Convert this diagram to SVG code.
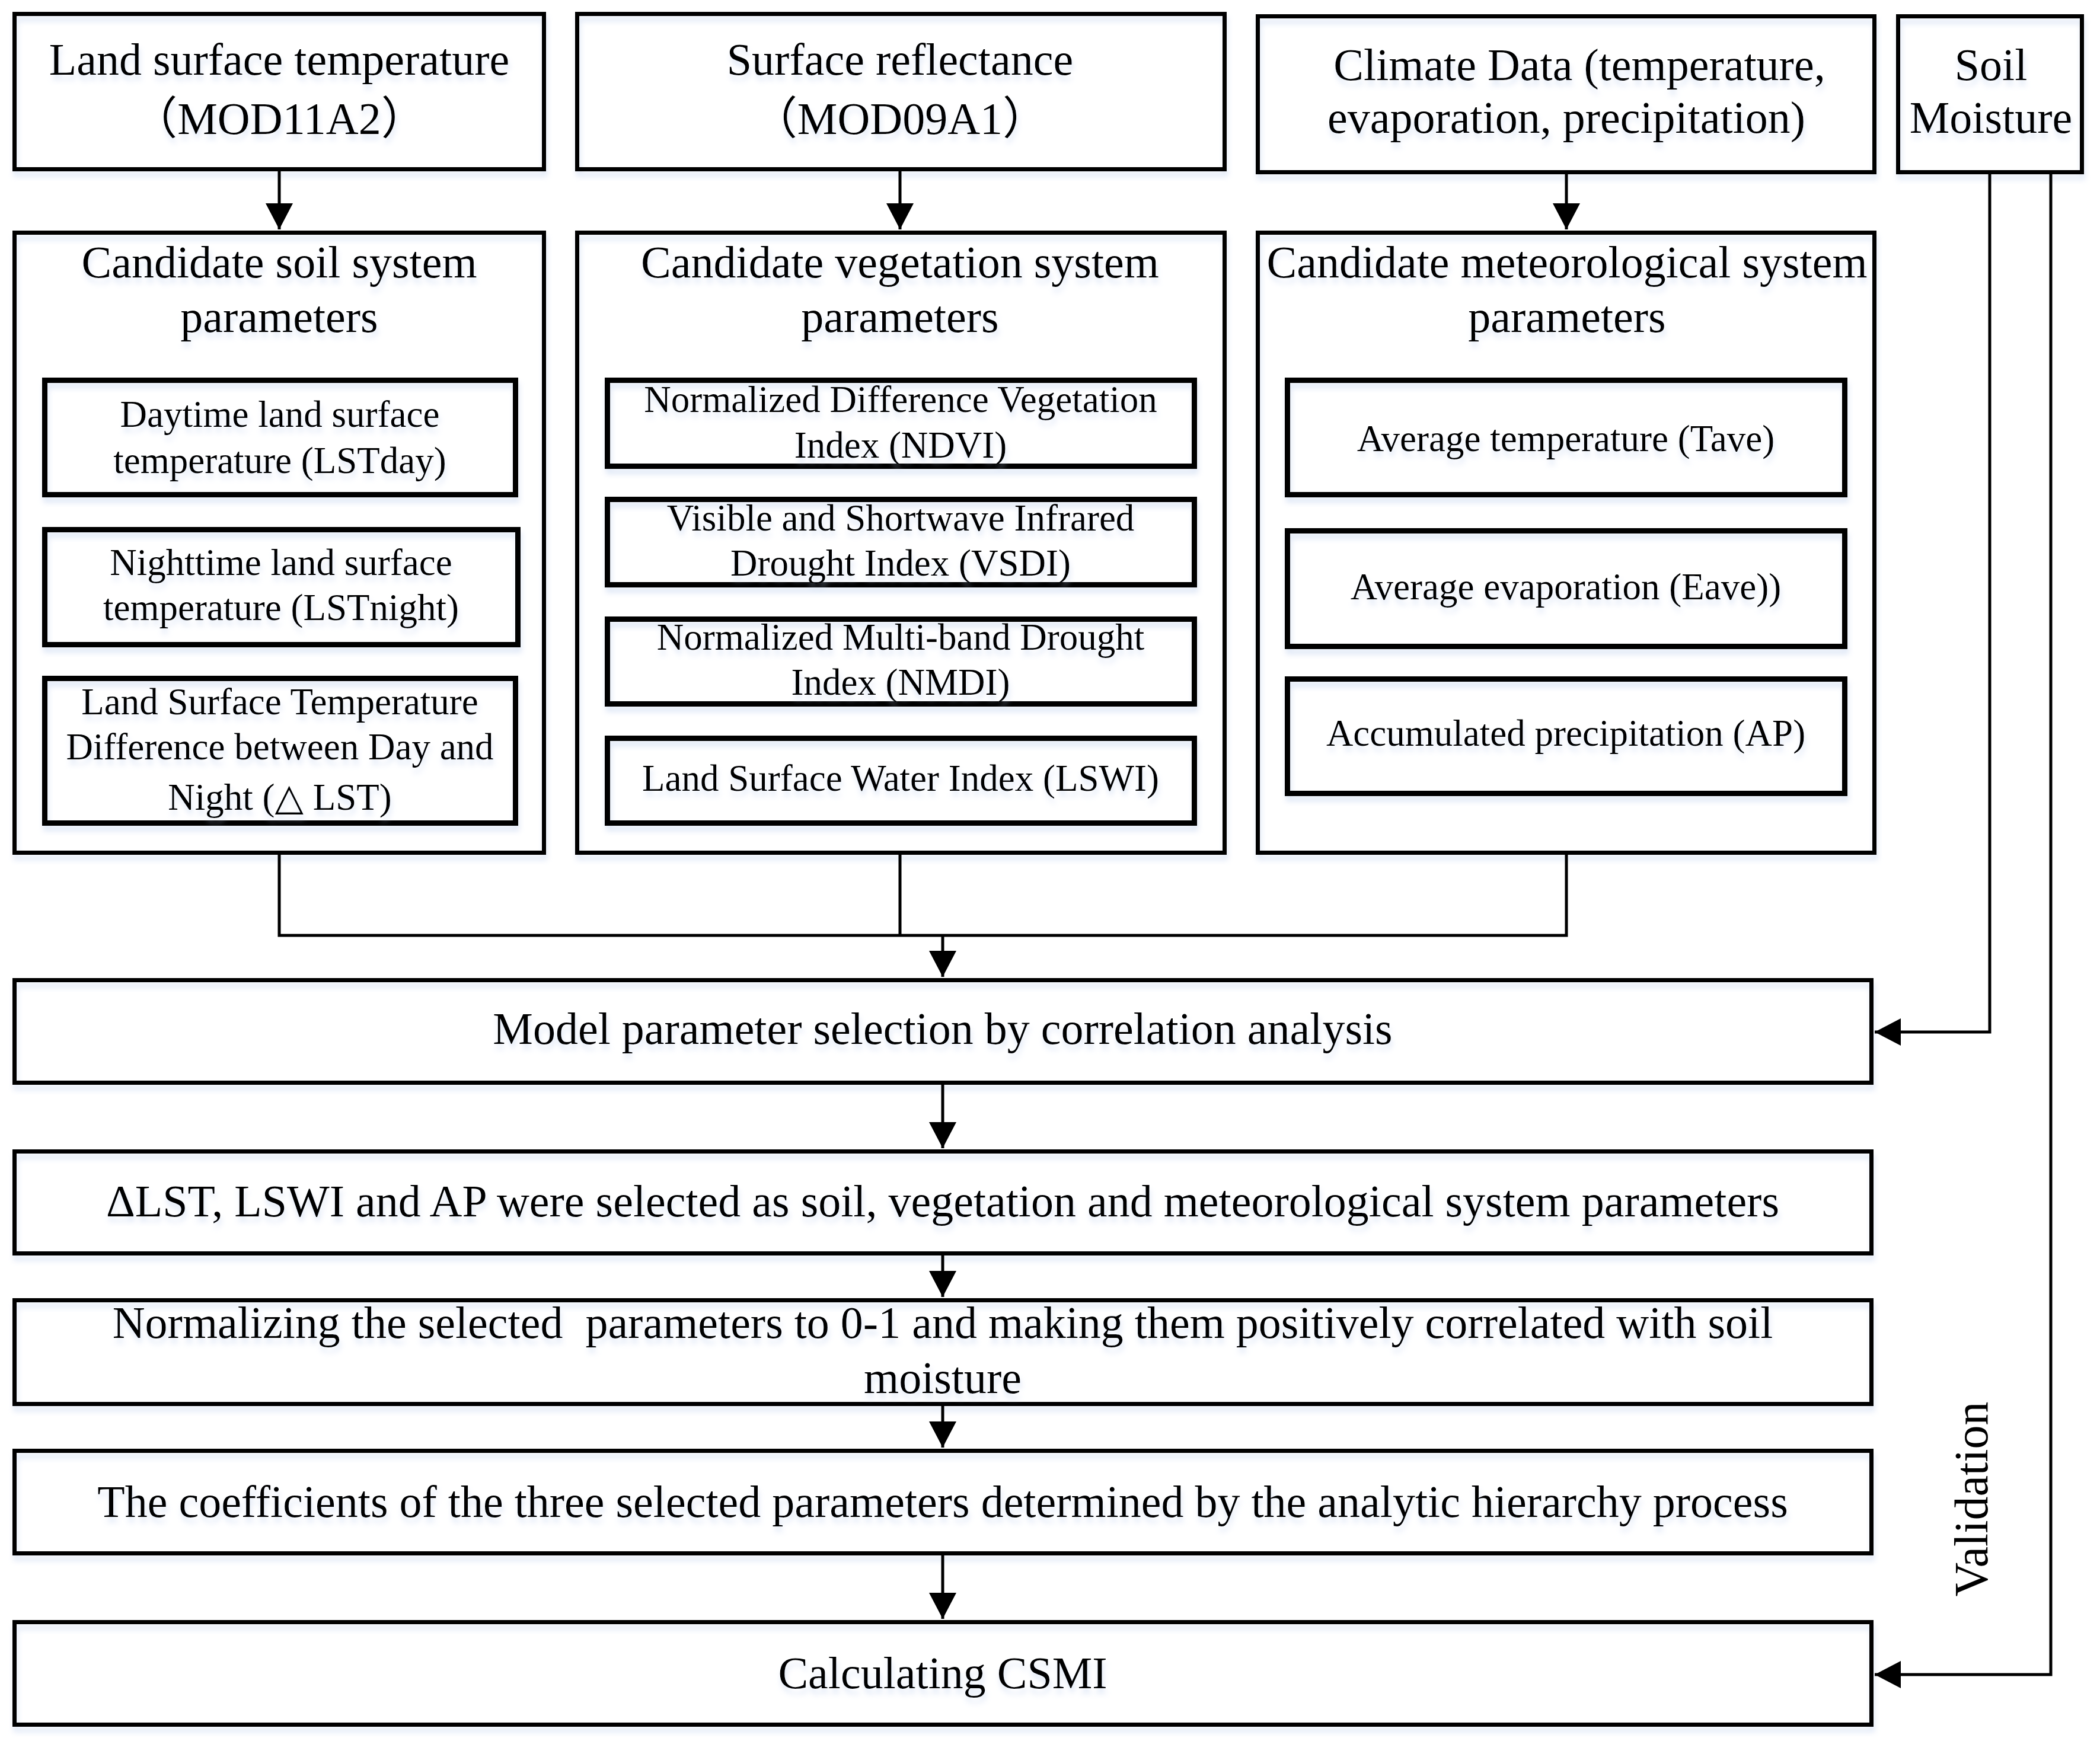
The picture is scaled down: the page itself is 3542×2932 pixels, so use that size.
<svg xmlns="http://www.w3.org/2000/svg" width="3542" height="2932" viewBox="0 0 3542 2932">
<style>
  .bg { fill: #ffffff; }
  .outer { fill: none; stroke: #000; stroke-width: 7; filter: url(#glow); }
  .inner { fill: none; stroke: #000; stroke-width: 9; filter: url(#glow); }
  .big { font-family: "Liberation Serif", "Noto Sans CJK SC", serif; font-size: 76px; fill: #000; text-anchor: middle; filter: url(#glow); }
  .small { font-family: "Liberation Serif", "DejaVu Serif", serif; font-size: 63px; fill: #000; text-anchor: middle; filter: url(#glow); }
  .conn { fill: none; stroke: #000; stroke-width: 5; }
  .val { font-family: "Liberation Serif", serif; font-size: 80px; fill: #000; text-anchor: middle; }
</style>
<defs>
  <filter id="glow" x="-5%" y="-20%" width="110%" height="150%">
    <feDropShadow dx="2" dy="9" stdDeviation="5" flood-color="#b9cdec" flood-opacity="0.45"/>
  </filter>
  <marker id="arrow" markerUnits="userSpaceOnUse" markerWidth="44" markerHeight="46" viewBox="0 0 44 46" refX="44" refY="23" orient="auto">
    <path d="M0,0 L44,23 L0,46 Z" fill="#000"/>
  </marker>
</defs>
<rect class="bg" x="0" y="0" width="3542" height="2932"/>

<g id="node-lst">
  <rect class="outer" x="24.5" y="23.5" width="893" height="262"/>
  <text class="big" x="471" y="126">Land surface temperature</text>
  <text class="big" x="471" y="226">（MOD11A2）</text>
</g>
<g id="node-reflectance">
  <rect class="outer" x="973.5" y="23.5" width="1092" height="262"/>
  <text class="big" x="1518" y="126">Surface reflectance</text>
  <text class="big" x="1518" y="226">（MOD09A1）</text>
</g>
<g id="node-climate">
  <rect class="outer" x="2121.5" y="27.5" width="1040" height="263"/>
  <text class="big" x="2664" y="135">Climate Data (temperature,</text>
  <text class="big" x="2642" y="224">evaporation, precipitation)</text>
</g>
<g id="node-soilmoisture">
  <rect class="outer" x="3201.5" y="27.5" width="310" height="263"/>
  <text class="big" x="3358" y="135">Soil</text>
  <text class="big" x="3358" y="224">Moisture</text>
</g>

<g id="node-soil-params">
  <rect class="outer" x="24.5" y="392.5" width="893" height="1046"/>
  <text class="big" x="471" y="468">Candidate soil system</text>
  <text class="big" x="471" y="560">parameters</text>
  <g id="node-lstday">
    <rect class="inner" x="75.5" y="641.5" width="794" height="193"/>
    <text class="small" x="472" y="720">Daytime land surface</text>
    <text class="small" x="472" y="798">temperature (LSTday)</text>
  </g>
  <g id="node-lstnight">
    <rect class="inner" x="75.5" y="893.5" width="798" height="194"/>
    <text class="small" x="474" y="970">Nighttime land surface</text>
    <text class="small" x="474" y="1046">temperature (LSTnight)</text>
  </g>
  <g id="node-dlst">
    <rect class="inner" x="75.5" y="1144.5" width="794" height="244"/>
    <text class="small" x="472" y="1205">Land Surface Temperature</text>
    <text class="small" x="472" y="1281">Difference between Day and</text>
    <text class="small" x="472" y="1366">Night (△ LST)</text>
  </g>
</g>

<g id="node-veg-params">
  <rect class="outer" x="973.5" y="392.5" width="1092" height="1046"/>
  <text class="big" x="1518" y="468">Candidate vegetation system</text>
  <text class="big" x="1518" y="560">parameters</text>
  <g id="node-ndvi">
    <rect class="inner" x="1024.5" y="641.5" width="990" height="145"/>
    <text class="small" x="1519" y="695">Normalized Difference Vegetation</text>
    <text class="small" x="1519" y="772">Index (NDVI)</text>
  </g>
  <g id="node-vsdi">
    <rect class="inner" x="1024.5" y="842.5" width="990" height="144"/>
    <text class="small" x="1519" y="895">Visible and Shortwave Infrared</text>
    <text class="small" x="1519" y="971">Drought Index (VSDI)</text>
  </g>
  <g id="node-nmdi">
    <rect class="inner" x="1024.5" y="1044.5" width="990" height="143"/>
    <text class="small" x="1519" y="1096">Normalized Multi-band Drought</text>
    <text class="small" x="1519" y="1172">Index (NMDI)</text>
  </g>
  <g id="node-lswi">
    <rect class="inner" x="1024.5" y="1245.5" width="990" height="143"/>
    <text class="small" x="1519" y="1334">Land Surface Water Index (LSWI)</text>
  </g>
</g>

<g id="node-met-params">
  <rect class="outer" x="2121.5" y="392.5" width="1040" height="1046"/>
  <text class="big" x="2643" y="468">Candidate meteorological system</text>
  <text class="big" x="2643" y="560">parameters</text>
  <g id="node-tave">
    <rect class="inner" x="2171.5" y="641.5" width="940" height="193"/>
    <text class="small" x="2641" y="761">Average temperature (Tave)</text>
  </g>
  <g id="node-eave">
    <rect class="inner" x="2171.5" y="895.5" width="940" height="195"/>
    <text class="small" x="2641" y="1011">Average evaporation (Eave))</text>
  </g>
  <g id="node-ap">
    <rect class="inner" x="2171.5" y="1145.5" width="940" height="193"/>
    <text class="small" x="2641" y="1258">Accumulated precipitation (AP)</text>
  </g>
</g>

<g id="node-model">
  <rect class="outer" x="24.5" y="1653.5" width="3132" height="173"/>
  <text class="big" x="1590" y="1761">Model parameter selection by correlation analysis</text>
</g>
<g id="node-selected">
  <rect class="outer" x="24.5" y="1942.5" width="3132" height="172"/>
  <text class="big" x="1590" y="2052">ΔLST, LSWI and AP were selected as soil, vegetation and meteorological system parameters</text>
</g>
<g id="node-normalize">
  <rect class="outer" x="24.5" y="2193.5" width="3132" height="175"/>
  <text class="big" x="1590" y="2257" xml:space="preserve">Normalizing the selected  parameters to 0-1 and making them positively correlated with soil</text>
  <text class="big" x="1590" y="2350">moisture</text>
</g>
<g id="node-ahp">
  <rect class="outer" x="24.5" y="2447.5" width="3132" height="173"/>
  <text class="big" x="1590" y="2559">The coefficients of the three selected parameters determined by the analytic hierarchy process</text>
</g>
<g id="node-csmi">
  <rect class="outer" x="24.5" y="2736.5" width="3132" height="173"/>
  <text class="big" x="1590" y="2848">Calculating CSMI</text>
</g>

<g id="connectors">
  <line class="conn" x1="471" y1="289" x2="471" y2="387" marker-end="url(#arrow)"/>
  <line class="conn" x1="1518" y1="289" x2="1518" y2="387" marker-end="url(#arrow)"/>
  <line class="conn" x1="2642" y1="294" x2="2642" y2="387" marker-end="url(#arrow)"/>
  <polyline class="conn" points="471,1442 471,1578 2642,1578 2642,1442"/>
  <line class="conn" x1="1518" y1="1442" x2="1518" y2="1578"/>
  <line class="conn" x1="1590" y1="1578" x2="1590" y2="1648" marker-end="url(#arrow)"/>
  <line class="conn" x1="1590" y1="1830" x2="1590" y2="1937" marker-end="url(#arrow)"/>
  <line class="conn" x1="1590" y1="2118" x2="1590" y2="2188" marker-end="url(#arrow)"/>
  <line class="conn" x1="1590" y1="2372" x2="1590" y2="2442" marker-end="url(#arrow)"/>
  <line class="conn" x1="1590" y1="2624" x2="1590" y2="2731" marker-end="url(#arrow)"/>
  <polyline class="conn" points="3356,294 3356,1741 3162,1741" marker-end="url(#arrow)"/>
  <polyline class="conn" points="3459,294 3459,2825 3162,2825" marker-end="url(#arrow)"/>
  <text class="val" transform="translate(3352,2529) rotate(-90)">Validation</text>
</g>
</svg>
